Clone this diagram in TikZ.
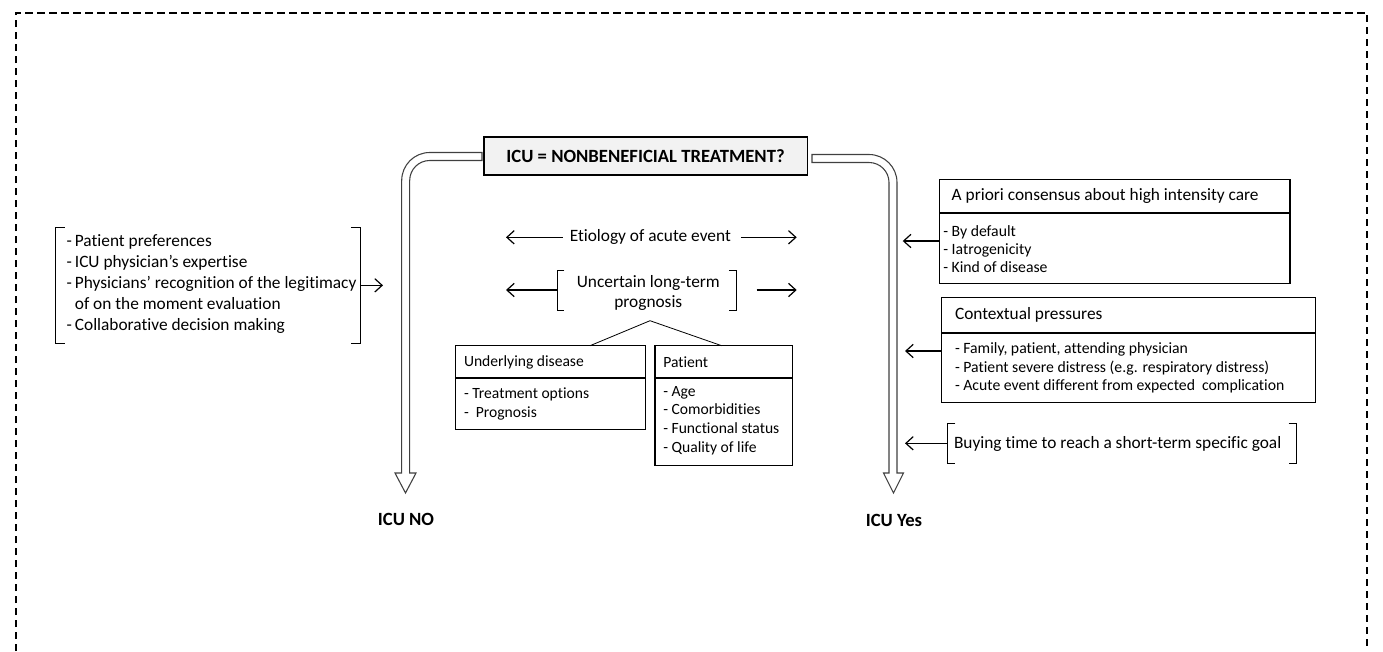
\documentclass[tikz,border=0pt]{standalone}
\usepackage{fontspec}
\setmainfont{Carlito}[Ligatures=NoCommon]
\usetikzlibrary{arrows.meta,calc}
\begin{document}
\begin{tikzpicture}[x=0.75pt,y=-0.75pt,
  every node/.style={inner sep=0pt, outer sep=0pt},
  txt/.style={font=\fontsize{13}{15.75}\selectfont, align=left, anchor=west},
  ctxt/.style={font=\fontsize{13}{15}\selectfont, align=center},
  itm/.style={font=\fontsize{11.7}{14}\selectfont, align=left, anchor=west},
  ritm/.style={font=\fontsize{11.8}{13.8}\selectfont, align=left, anchor=west},
  hdr/.style={font=\fontsize{13}{14}\selectfont, anchor=west},
  shdr/.style={font=\fontsize{11.7}{14}\selectfont, anchor=west},
  bold/.style={font=\fontsize{14}{16}\selectfont\bfseries},
  boxx/.style={draw, line width=0.8pt, anchor=north west},
  ghost/.style={draw=none},
  sepline/.style={line width=1.6pt},
  conn/.style={line width=0.9pt, -{Straight Barb[length=5.5pt,width=10pt,line width=0.9pt]}},
  hollow/.style={draw=black!75, line width=0.8pt, fill=white},
  brk/.style={line width=0.6pt},
  border/.style={line width=1.3pt, dash pattern=on 5.5pt off 3.5pt}
]
\useasboundingbox (0,0) rectangle (1383,651);
% dashed frame
\draw[border] (15.7,651) -- (15.7,12.7) -- (1367,12.7) -- (1367,651);

% title
\node[boxx, fill=black!5, minimum width=242.3pt, minimum height=28.5pt] (title) at (484,137) {};
\node[bold] (titletxt) at (title.center) {ICU = NONBENEFICIAL TREATMENT?};

% hollow arrows
\draw[hollow] (482,152.5) -- (429.7,152.5) arc[start angle=270, end angle=180, radius=28] -- (401.7,473) -- (395,473) -- (405.5,493) -- (416,473) -- (409.7,473) -- (409.7,180.5) arc[start angle=180, end angle=270, radius=20] -- (482,160.5) -- cycle;
\draw[hollow] (812,154.5) -- (869,154.5) arc[start angle=270, end angle=360, radius=28] -- (897,473) -- (903.5,473) -- (893.5,493) -- (883.5,473) -- (889,473) -- (889,182.5) arc[start angle=0, end angle=-90, radius=20] -- (812,162.5) -- cycle;
\node[bold] (icuno) at (406,519) {ICU NO};
\node[bold] (icuyes) at (894,520) {ICU Yes};

% left bracket group
\node[ghost, minimum width=228.2pt, minimum height=86.5pt] (pref) at (207.85,285.35) {};
\draw[brk] ($(pref.north west)+(9,0)$) -- (pref.north west) -- (pref.south west) -- ++(9,0);
\draw[brk] ($(pref.north east)+(-9,0)$) -- (pref.north east) -- (pref.south east) -- ++(-9,0);
\node[txt] (preftxt) at (66.7,284) {-\,Patient preferences\\-\,ICU physician’s expertise\\-\,Physicians’ recognition of the legitimacy\\\hphantom{-\,}of on the moment evaluation\\-\,Collaborative decision making};
\coordinate (noIn) at (383,285.35);
\draw[conn] (pref.east) -- (noIn);

% etiology
\node[ctxt] (eti) at (650.3,237.3) {Etiology of acute event};
\coordinate (etiL) at (506,237.3);
\coordinate (etiR) at (796.7,237.3);
\draw[conn] ($(eti.west)+(-7,0)$) -- (etiL);
\draw[conn] ($(eti.east)+(10,0)$) -- (etiR);

% uncertain prognosis
\node[ghost, minimum width=134pt, minimum height=30pt] (unc) at (646.65,290) {};
\draw[brk] ($(unc.north west)+(7,0)$) -- (unc.north west) -- (unc.south west) -- ++(7,0);
\draw[brk] ($(unc.north east)+(-7,0)$) -- (unc.north east) -- (unc.south east) -- ++(-7,0);
\node[ctxt] (unctxt) at (648.3,293.3) {Uncertain long-term\\prognosis};
\coordinate (uncL) at (506,290);
\coordinate (uncR) at (796.7,290);
\draw[conn] (unc.west) -- (uncL);
\draw[conn] ($(unc.east)+(20.7,0)$) -- (uncR);
\coordinate (apex) at (650,320.7);

% underlying disease
\node[boxx, minimum width=142.5pt, minimum height=62.7pt] (ud) at (455.7,345.7) {};
\draw[sepline] ($(ud.north west)+(0,32)$) -- ($(ud.north east)+(0,32)$);
\node[shdr] (udh) at (464,362) {Underlying disease};
\node[itm] (udi) at (464,403.8) {- Treatment options\\-\ \ Prognosis};

% patient
\node[boxx, minimum width=103.3pt, minimum height=89.5pt] (pt) at (655,345.7) {};
\draw[sepline] ($(pt.north west)+(0,32)$) -- ($(pt.north east)+(0,32)$);
\node[shdr] (pth) at (663.3,362) {Patient};
\node[itm] (pti) at (663.3,420.5) {- Age\\- Comorbidities\\- Functional status\\- Quality of life};

\draw[line width=0.6pt] ($(ud.north west)+(134.3,0)$) -- (apex) -- ($(pt.north west)+(66.7,0)$);

% a priori consensus
\node[boxx, minimum width=263pt, minimum height=78pt] (ap) at (939.3,179.3) {};
\draw[sepline] ($(ap.north west)+(0,34)$) -- ($(ap.north east)+(0,34)$);
\node[hdr] (aph) at (951.7,196) {A priori consensus about high intensity care};
\node[ritm] (api) at (943.3,249) {- By default\\- Iatrogenicity\\- Kind of disease};
\coordinate (yesA) at (902.7,241);
\draw[conn] (ap.west |- yesA) -- (yesA);

% contextual pressures
\node[boxx, minimum width=280pt, minimum height=79pt] (ctx) at (941.7,297.3) {};
\draw[sepline] ($(ctx.north west)+(0,35.4)$) -- ($(ctx.north east)+(0,35.4)$);
\node[hdr] (ctxh) at (955,315) {Contextual pressures};
\node[ritm] (ctxi) at (955,368) {- Family, patient, attending physician\\- Patient severe distress (e.g. respiratory distress)\\- Acute event different from expected\ \ complication};
\coordinate (yesB) at (905,351);
\draw[conn] (ctx.west |- yesB) -- (yesB);

% buying time
\node[ghost, minimum width=262pt, minimum height=30pt] (buy) at (1122,443.3) {};
\draw[brk] ($(buy.north west)+(8,0)$) -- (buy.north west) -- (buy.south west) -- ++(8,0);
\draw[brk] ($(buy.north east)+(-8,0)$) -- (buy.north east) -- (buy.south east) -- ++(-8,0);
\node[hdr] (buytxt) at (954,444) {Buying time to reach a short-term specific goal};
\coordinate (yesC) at (905,443.3);
\draw[conn] (buy.west) -- (yesC);
\end{tikzpicture}
\end{document}
